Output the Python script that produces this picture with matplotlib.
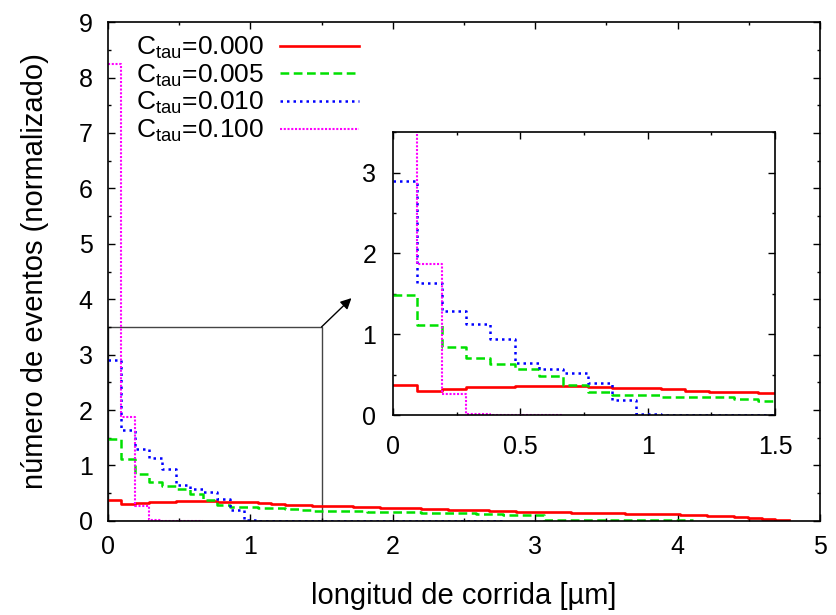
import numpy as np
import matplotlib
matplotlib.use("Agg")
import matplotlib.pyplot as plt
from matplotlib.patches import Rectangle
from matplotlib.ticker import MultipleLocator, FormatStrFormatter

plt.rcParams['font.family'] = ['Liberation Sans', 'DejaVu Sans']
plt.rcParams['mathtext.fontset'] = 'custom'
plt.rcParams['mathtext.rm'] = 'Liberation Sans'
plt.rcParams['mathtext.it'] = 'Liberation Sans:italic'
plt.rcParams['font.size'] = 18

# histogram bin width (um)
bin_width = 0.0956

labels = [r"C$_\mathrm{tau}$=0.000", r"C$_\mathrm{tau}$=0.005",
          r"C$_\mathrm{tau}$=0.010", r"C$_\mathrm{tau}$=0.100"]

ctau_0000 = [0.37, 0.30, 0.32, 0.35, 0.35, 0.36, 0.365, 0.365, 0.35, 0.34,
             0.34, 0.32, 0.30, 0.29, 0.28, 0.27, 0.27, 0.26, 0.255, 0.25,
             0.235, 0.23, 0.225, 0.22, 0.21, 0.20, 0.195, 0.19, 0.185, 0.175,
             0.165, 0.16, 0.16, 0.155, 0.15, 0.145, 0.14, 0.135, 0.13, 0.125,
             0.125, 0.12, 0.115, 0.10, 0.09, 0.08, 0.065, 0.05, 0.035, 0.02]
ctau_0005 = [1.48, 1.12, 0.84, 0.71, 0.63, 0.57, 0.48, 0.37, 0.28, 0.245,
             0.245, 0.23, 0.225, 0.22, 0.195, 0.18, 0.175, 0.17, 0.17, 0.165,
             0.165, 0.16, 0.155, 0.15, 0.145, 0.14, 0.135, 0.13, 0.12, 0.115,
             0.11, 0.105, 0.01, 0.01, 0.01, 0.01, 0.01, 0.01, 0.01, 0.01,
             0.01, 0.01, 0.01]
ctau_0010 = [2.90, 1.64, 1.29, 1.13, 0.94, 0.65, 0.57, 0.52, 0.40, 0.19,
             0.02, 0.0, 0.0, 0.0, 0.0, 0.0, 0.0, 0.0, 0.0, 0.0,
             0.0, 0.0, 0.0, 0.0, 0.0, 0.0, 0.0, 0.0, 0.0]
ctau_0100 = [8.25, 1.87, 0.26, 0.02, 0.0, 0.0, 0.0]

series = [ctau_0000, ctau_0005, ctau_0010, ctau_0100]
styles = [
    dict(color='#ff0000', lw=1.9, linestyle='-'),
    dict(color='#00e000', lw=1.8, linestyle=(0, (3.5, 1.8))),
    dict(color='#0000ff', lw=1.8, linestyle=(0, (1, 1.6))),
    dict(color='#ff00ff', lw=1.5, linestyle=(0, (1, 0.8))),
]


def draw_hist(ax, with_labels):
    for vals, st, lab in zip(series, styles, labels):
        vals = np.asarray(vals, dtype=float)
        edges = np.arange(len(vals) + 1) * bin_width
        ax.plot(edges, np.append(vals, vals[-1]), drawstyle='steps-post',
                label=lab if with_labels else None, **st)


def style_ticks(ax, pad_x, pad_y):
    ax.tick_params(which='both', direction='in', top=True, right=True,
                   width=1.0)
    ax.tick_params(which='major', length=5)
    ax.tick_params(which='minor', length=2.5)
    ax.tick_params(axis='x', which='major', pad=pad_x)
    ax.tick_params(axis='y', which='major', pad=pad_y)
    for sp in ax.spines.values():
        sp.set_linewidth(1.2)


fig = plt.figure(figsize=(8.36, 6.15), dpi=100)
ax = fig.add_axes([0.129, 0.153, 0.852, 0.811])
draw_hist(ax, True)
ax.set_xlim(0, 5)
ax.set_ylim(0, 9)
ax.xaxis.set_major_locator(MultipleLocator(1))
ax.xaxis.set_minor_locator(MultipleLocator(0.5))
ax.yaxis.set_major_locator(MultipleLocator(1))
ax.yaxis.set_minor_locator(MultipleLocator(0.5))
style_ticks(ax, 10, 11)
ax.set_xlabel("longitud de corrida [µm]", fontsize=21, labelpad=17)
ax.set_ylabel("número de eventos (normalizado)", fontsize=21, labelpad=21)

# zoom region marker and arrow towards the inset
ax.add_patch(Rectangle((0, 0), 1.5, 3.5, fill=False, ec='#444444', lw=1.0,
                       zorder=1))
ax.annotate('', xy=(1.71, 4.02), xytext=(1.5, 3.5),
            arrowprops=dict(arrowstyle='-|>', color='black', lw=1.0,
                            mutation_scale=16, shrinkA=0, shrinkB=0))

ax.legend(loc='upper left', bbox_to_anchor=(0.025, 0.995), frameon=False,
          markerfirst=False, handlelength=3.0, handletextpad=0.6,
          labelspacing=0.05, borderaxespad=0, fontsize=19)

# inset
axi = fig.add_axes([0.470, 0.325, 0.457, 0.460])
draw_hist(axi, False)
axi.set_xlim(0, 1.5)
axi.set_ylim(0, 3.5)
axi.xaxis.set_major_locator(MultipleLocator(0.5))
axi.xaxis.set_minor_locator(MultipleLocator(0.25))
axi.xaxis.set_major_formatter(FormatStrFormatter('%g'))
axi.yaxis.set_major_locator(MultipleLocator(1))
axi.yaxis.set_minor_locator(MultipleLocator(0.5))
style_ticks(axi, 14, 12)

fig.savefig("out.png", dpi=100)
